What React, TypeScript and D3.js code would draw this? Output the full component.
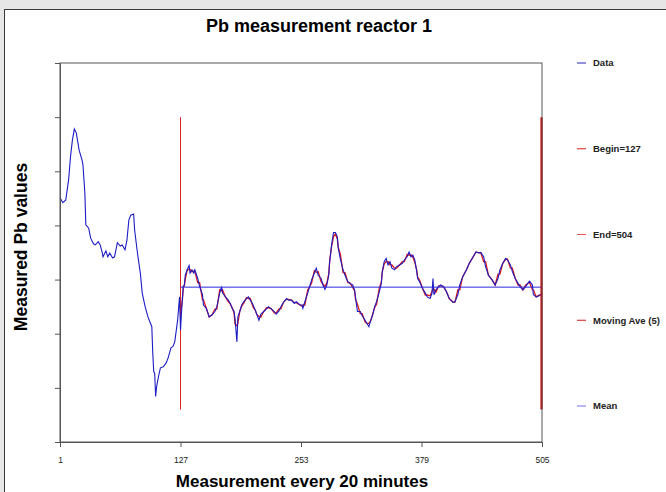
import React, { useRef, useEffect } from 'react';
import * as d3 from 'd3';

// readings as [measurement index, Pb value]
const pbReadings: [number, number][] = [
  [1, 45.1], [4, 44.2], [7, 44.7], [10, 48.4], [12, 52.7], [14, 55.8], [16, 57.8], [18, 57.1], [21, 53.9], [24, 52.1],
  [25, 51.2], [27, 46.0], [28, 40.1], [31, 39.5], [33, 37.7], [36, 36.6], [38, 36.4], [41, 37.0], [43, 36.4], [45, 35.1],
  [46, 34.2], [49, 35.3], [51, 34.2], [53, 34.9], [56, 34.0], [58, 34.2], [61, 36.8], [64, 36.2], [66, 36.4], [69, 35.5],
  [71, 37.3], [73, 41.0], [75, 41.9], [78, 42.1], [79, 39.2], [82, 34.9], [85, 31.2], [87, 27.5], [90, 25.0], [93, 23.1],
  [97, 21.3], [98, 16.4], [99, 13.0], [100, 12.7], [101, 8.4], [102, 10.2], [104, 12.1], [106, 13.7], [109, 13.9], [112, 14.6],
  [114, 15.5], [117, 17.4], [119, 17.6], [121, 18.5], [124, 22.5], [126, 26.8], [127, 20.7], [129, 26.6], [130, 28.7], [131, 29.0],
  [132, 30.8], [134, 31.8], [136, 32.6], [137, 31.2], [139, 31.8], [141, 31.2], [142, 31.8], [145, 30.2], [147, 28.7], [150, 27.2],
  [151, 25.3], [154, 24.7], [157, 23.1], [160, 23.5], [163, 24.1], [165, 25.0], [168, 27.5], [170, 28.7], [171, 27.5], [174, 26.8],
  [177, 26.2], [179, 25.6], [181, 24.7], [183, 24.1], [184, 22.8], [186, 18.5], [187, 23.1], [189, 24.1], [191, 25.3], [193, 25.9],
  [196, 26.5], [198, 26.8], [200, 26.2], [203, 25.3], [205, 24.4], [207, 23.5], [209, 22.5], [211, 23.6], [214, 24.1], [217, 24.6],
  [219, 25.0], [222, 24.6], [225, 24.1], [227, 23.6], [230, 24.2], [232, 25.0], [235, 25.9], [238, 26.5], [240, 26.2], [243, 26.2],
  [246, 25.6], [248, 25.9], [252, 25.3], [254, 25.3], [255, 24.7], [257, 25.9], [260, 27.5], [262, 28.7], [264, 29.9], [267, 31.2],
  [269, 32.1], [271, 30.8], [274, 30.2], [276, 29.0], [278, 28.2], [280, 29.0], [282, 30.8], [283, 33.3], [285, 36.4], [287, 38.7],
  [289, 38.7], [291, 37.9], [292, 35.8], [294, 33.9], [297, 31.8], [299, 30.8], [302, 29.6], [304, 29.3], [307, 29.0], [309, 28.1],
  [310, 26.8], [312, 24.1], [315, 24.1], [317, 23.3], [320, 22.5], [322, 21.9], [324, 21.3], [326, 22.5], [328, 23.5], [330, 25.0],
  [332, 25.9], [335, 27.8], [337, 29.3], [338, 31.5], [340, 33.3], [342, 33.9], [344, 32.7], [346, 33.3], [348, 32.1], [351, 31.8],
  [353, 32.4], [356, 32.7], [359, 33.0], [361, 33.6], [364, 34.2], [366, 35.1], [368, 34.2], [370, 34.5], [372, 33.6], [374, 31.5],
  [375, 30.2], [377, 29.6], [380, 28.4], [383, 27.5], [385, 26.8], [388, 26.5], [390, 27.5], [391, 30.2], [392, 27.2], [394, 28.1],
  [397, 28.7], [399, 29.0], [402, 28.7], [405, 27.8], [408, 26.5], [412, 25.8], [414, 25.9], [417, 27.2], [419, 29.0], [422, 30.5],
  [426, 31.8], [429, 33.0], [433, 34.2], [436, 35.1], [439, 34.9], [441, 35.0], [444, 34.2], [446, 32.4], [449, 30.8], [453, 29.9],
  [456, 29.0], [459, 30.2], [461, 31.8], [464, 33.0], [467, 33.9], [469, 33.6], [472, 32.7], [474, 31.5], [477, 30.2], [480, 29.3],
  [482, 28.7], [485, 28.1], [488, 28.7], [490, 29.3], [492, 29.7], [495, 29.0], [496, 27.2], [499, 26.8], [502, 27.0], [504, 27.3],
  [505, 27.3]
];

const xTicks = [1, 127, 253, 379, 505];
const yTicks = [0, 10, 20, 30, 40, 50, 60, 70];
const beginIdx = 127;
const endIdx = 504;
const meanValue = 28.6;
const markerRange = [6, 60];
const maWindow = 5;

const legendLabels = ['Data', 'Begin=127', 'End=504', 'Moving Ave (5)', 'Mean'];
const legendColors = ['#2323b8', '#e02020', '#e85050', '#d81818', '#6f6ff5'];

const W = 666;
const H = 492;

const App = () => {
  const svgRef = useRef<SVGSVGElement>(null);

  useEffect(() => {
    const svg = d3.select(svgRef.current);
    svg.selectAll('*').remove();

    const box = { left: 60, right: 542, top: 63, bottom: 442 };
    const font = '"Liberation Sans", Arial, sans-serif';

    // window chrome
    svg.append('rect').attr('width', W).attr('height', H).attr('fill', '#e6e6e6');
    svg.append('rect').attr('x', 4.5).attr('y', 9.5).attr('width', W).attr('height', H)
      .attr('fill', '#fff').attr('stroke', '#3a3a3a');

    const x = d3.scaleLinear().domain([1, 505]).range([box.left, box.right]);
    const y = d3.scaleLinear().domain([0, 70]).range([box.bottom, box.top]);

    // moving average over a 5-index window, from the begin marker on
    const tail = pbReadings.filter(d => d[0] >= beginIdx);
    const movingAve = tail.map(([i]) => {
      const win = tail.filter(d => Math.abs(d[0] - i) <= (maWindow - 1) / 2);
      return [i, d3.mean(win, d => d[1]) as number] as [number, number];
    });

    const line = d3.line<[number, number]>().x(d => x(d[0])).y(d => y(d[1]));

    // markers
    svg.append('line')
      .attr('x1', x(beginIdx)).attr('x2', x(beginIdx))
      .attr('y1', y(markerRange[0])).attr('y2', y(markerRange[1]))
      .attr('stroke', '#e02020').attr('stroke-width', 1);

    svg.append('path').datum(movingAve).attr('d', line)
      .attr('fill', 'none').attr('stroke', '#e01818').attr('stroke-width', 1.3);

    svg.append('path').datum(pbReadings).attr('d', line)
      .attr('fill', 'none').attr('stroke', '#1c1cc4').attr('stroke-width', 1.1);

    svg.append('line')
      .attr('x1', x(beginIdx)).attr('x2', x(505))
      .attr('y1', y(meanValue)).attr('y2', y(meanValue))
      .attr('stroke', '#2a2ae0').attr('stroke-width', 1);

    svg.append('line')
      .attr('x1', x(endIdx) + 0.5).attr('x2', x(endIdx) + 0.5)
      .attr('y1', y(markerRange[0])).attr('y2', y(markerRange[1]))
      .attr('stroke', '#cc0000').attr('stroke-width', 2.2);

    // box
    svg.append('rect')
      .attr('x', box.left).attr('y', box.top)
      .attr('width', box.right - box.left).attr('height', box.bottom - box.top)
      .attr('fill', 'none').attr('stroke', '#555').attr('stroke-width', 1);

    const xAxis = svg.append('g')
      .attr('transform', `translate(0,${box.bottom})`)
      .call(d3.axisBottom(x).tickValues(xTicks).tickSize(5).tickPadding(10).tickFormat(d3.format('d')));
    xAxis.select('.domain').attr('stroke', '#555');
    xAxis.selectAll('line').attr('stroke', '#555');
    xAxis.selectAll('text').attr('font-family', font).attr('font-size', 8.5).attr('fill', '#222');

    const yAxis = svg.append('g')
      .attr('transform', `translate(${box.left},0)`)
      .call(d3.axisLeft(y).tickValues(yTicks).tickSize(5).tickFormat(() => ''));
    yAxis.select('.domain').attr('stroke', '#555');
    yAxis.selectAll('line').attr('stroke', '#555');

    // titles
    svg.append('text').attr('x', 319).attr('y', 32).attr('text-anchor', 'middle')
      .attr('font-family', font).attr('font-weight', 'bold').attr('font-size', 18)
      .text('Pb measurement reactor 1');

    svg.append('text').attr('x', 302).attr('y', 487).attr('text-anchor', 'middle')
      .attr('font-family', font).attr('font-weight', 'bold').attr('font-size', 17)
      .text('Measurement every 20 minutes');

    svg.append('text')
      .attr('transform', `translate(27,247) rotate(-90)`)
      .attr('text-anchor', 'middle')
      .attr('font-family', font).attr('font-weight', 'bold').attr('font-size', 17.5)
      .text('Measured Pb values');

    // legend
    const ly = d3.scalePoint<string>().domain(legendLabels).range([63, 406]);
    const leg = svg.append('g').selectAll('g').data(legendLabels).join('g')
      .attr('transform', d => `translate(577,${ly(d)})`);
    leg.append('line').attr('x1', 0).attr('x2', 9)
      .attr('stroke', (d, i) => legendColors[i]).attr('stroke-width', 1);
    leg.append('text').attr('x', 16).attr('dy', '0.35em')
      .attr('font-family', font).attr('font-weight', 'bold').attr('font-size', 9.5).attr('fill', '#222')
      .text(d => d);
  }, []);

  return (
    <svg ref={svgRef} width={W} height={H} style={{ position: 'absolute', left: 0, top: 0, display: 'block' }} />
  );
};

export default App;
